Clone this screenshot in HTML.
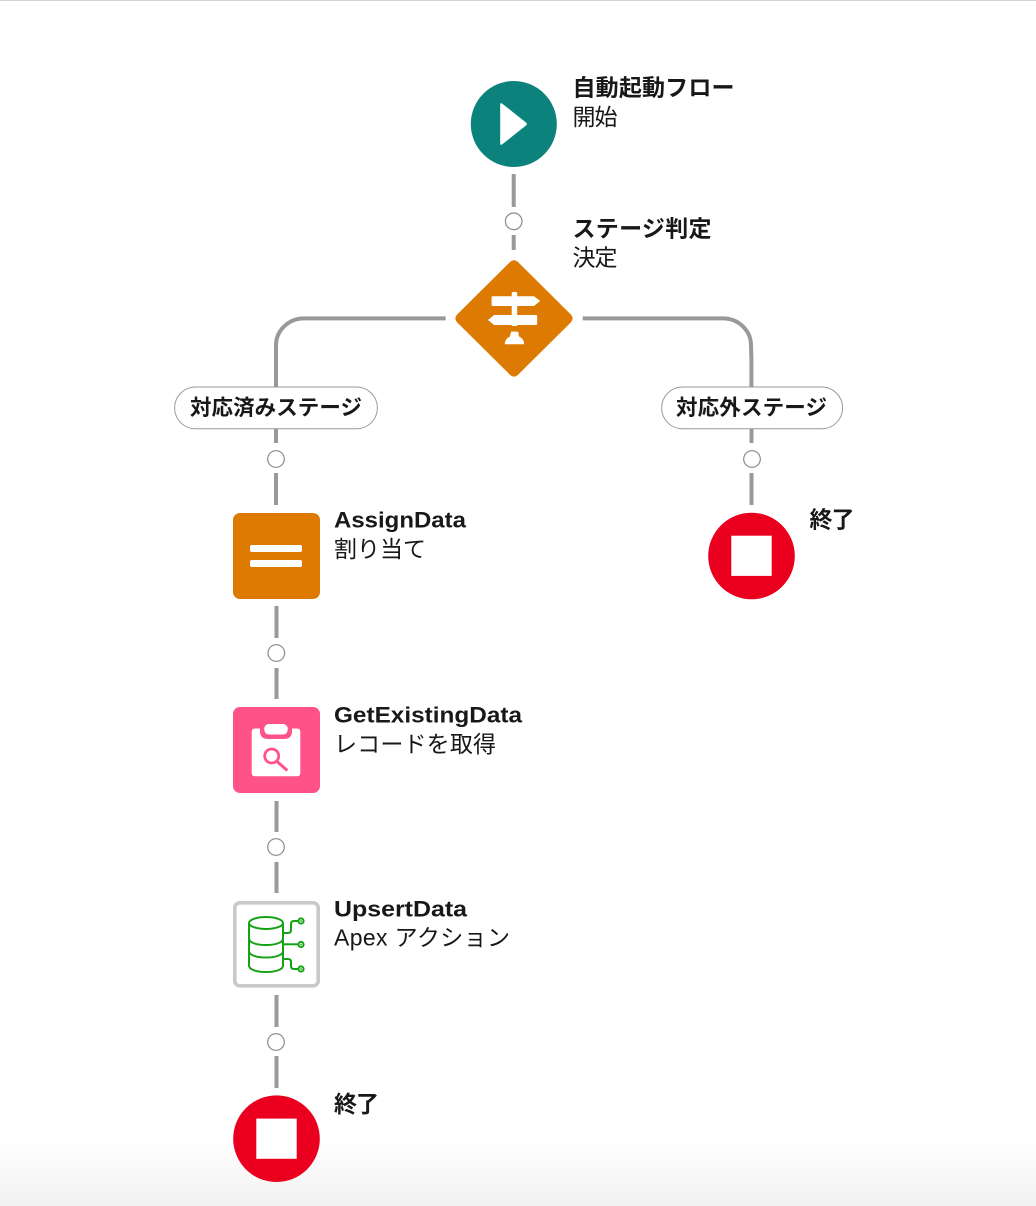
<!DOCTYPE html>
<html lang="ja">
<head>
<meta charset="utf-8">
<title>Flow</title>
<style>
html,body{margin:0;padding:0;background:#fff;width:1036px;height:1206px;overflow:hidden}
svg{display:block}
text{font-family:"Liberation Sans","Noto Sans CJK JP",sans-serif;fill:#181818}
.b{font-size:23px;font-weight:700}
.r{font-size:23px;font-weight:400}
.p{font-size:21.5px;font-weight:700}
.lb{font-size:22px;font-weight:700}
.l{stroke:#999;stroke-width:4;fill:none}
.c{fill:#fff;stroke:#8a8a8a;stroke-width:1.2}
</style>
</head>
<body>
<svg width="1036" height="1206" viewBox="0 0 1036 1206" xmlns="http://www.w3.org/2000/svg">
<defs>
<linearGradient id="g" x1="0" y1="0" x2="0" y2="1">
<stop offset="0" stop-color="#fff"/>
<stop offset="1" stop-color="#f2f2f2"/>
</linearGradient>
</defs>
<rect width="1036" height="1206" fill="#fff"/>
<rect x="0" y="1135" width="1036" height="71" fill="url(#g)"/>
<rect x="0" y="0" width="1036" height="1" fill="#d4d4d4"/>

<!-- connectors -->
<path class="l" d="M513.7 174V207M513.7 235V250"/>
<path class="l" d="M445.7 318.4H304A28 27 0 0 0 276 345.4V387"/>
<path class="l" d="M582.7 318.4H723A28 27 0 0 1 751 345.4L751.4 360V387"/>
<path class="l" d="M276 429V443M276 473V505M276.5 606V638M276.5 668V699M276.5 801V832M276.5 862V893M276.5 995V1027M276.5 1056V1088"/>
<path class="l" d="M751.5 429V443M751.5 473V505"/>

<circle class="c" cx="513.7" cy="221.3" r="8.3"/>
<circle class="c" cx="276" cy="459" r="8.3"/>
<circle class="c" cx="752" cy="459" r="8.3"/>
<circle class="c" cx="276.3" cy="653" r="8.3"/>
<circle class="c" cx="276" cy="847" r="8.3"/>
<circle class="c" cx="276" cy="1042" r="8.3"/>

<!-- start -->
<circle cx="513.8" cy="124" r="43" fill="#0b827c"/>
<path d="M502 103.5L526.3 122.8Q527.5 124 526.3 125.2L502 144.5Q500.2 145.5 500.2 143.5V104.5Q500.2 102.5 502 103.5Z" fill="#fff"/>

<!-- decision -->
<path d="M509.8 262.2Q514 258.2 518.2 262.2L570.6 314.2Q574.6 318.4 570.6 322.6L518.2 374.6Q514 378.6 509.8 374.6L457.4 322.6Q453.4 318.4 457.4 314.2Z" fill="#dd7a01"/>
<path d="M511.7 296.2V293.4Q511.7 292 513 292H516Q517.2 292 517.2 293.4V296.2H534L540.2 301L534 306H517.2V315H536Q537.2 315 537.2 316.2V323.8Q537.2 325 536 325H517.2V326H511.7V325H494L488 320L494 315H511.7V306H492.8Q491.6 306 491.6 304.8V297.4Q491.6 296.2 492.8 296.2Z" fill="#fff"/>
<path d="M511 331.6H518.2L519 336.5C522.5 338 524.2 341 524.2 344.2H504.8C504.8 341 506.5 338 510 336.5Z" fill="#fff"/>

<!-- pills -->
<rect x="174.6" y="387" width="202.8" height="41.8" rx="20.9" fill="#fff" stroke="#999" stroke-width="1"/>
<rect x="661.6" y="387" width="181" height="41.8" rx="20.9" fill="#fff" stroke="#999" stroke-width="1"/>

<!-- assignment -->
<rect x="233" y="513" width="87" height="86" rx="7" fill="#dd7a01"/>
<rect x="250" y="545" width="52" height="7" rx="2" fill="#fff"/>
<rect x="250" y="560" width="52" height="7" rx="2" fill="#fff"/>

<!-- get records -->
<rect x="233" y="707" width="87" height="86" rx="7" fill="#fe5289"/>
<path d="M255 728.5H260V731Q260 739 268 739H284Q292 739 292 731V728.5H297Q300.3 728.5 300.3 732V773Q300.3 776.2 297 776.2H255Q251.7 776.2 251.7 773V732Q251.7 728.5 255 728.5Z" fill="#fff"/>
<rect x="264.3" y="724" width="23.4" height="10.5" rx="4.5" fill="#fff"/>
<circle cx="271.7" cy="756" r="7" fill="none" stroke="#fe5289" stroke-width="2.8"/>
<path d="M277 761.5L287.3 770.5" stroke="#fe5289" stroke-width="3" fill="none"/>

<!-- apex action -->
<rect x="234.8" y="902.8" width="83.4" height="83" rx="5" fill="#fff" stroke="#c9c9c9" stroke-width="3.6"/>
<g fill="none" stroke="#14a314" stroke-width="2">
<ellipse cx="266" cy="923" rx="17" ry="6"/>
<path d="M249 923V965.5C249 969.5 256 972 266 972S283 969.5 283 965.5V923"/>
<path d="M249 938.5C249 942.5 256 945 266 945S283 942.5 283 938.5"/>
<path d="M249 951C249 955 256 957.5 266 957.5S283 955 283 951"/>
<path d="M284 933H288Q291 933 291 930V924Q291 921 294 921H298"/>
<path d="M283 944.3H298"/>
<path d="M284 959H288Q291 959 291 962V966Q291 969 294 969H298"/>
<circle cx="301" cy="921" r="2.6"/>
<circle cx="301" cy="944.5" r="2.6"/>
<circle cx="301" cy="969" r="2.6"/>
</g>
<g fill="#14a314">
<circle cx="301" cy="921" r="0.9"/>
<circle cx="301" cy="944.5" r="0.9"/>
<circle cx="301" cy="969" r="0.9"/>
</g>

<!-- ends -->
<circle cx="751.5" cy="556" r="43.3" fill="#ea001e"/>
<rect x="731.3" y="535.7" width="40.4" height="40.2" fill="#fff"/>
<circle cx="276.5" cy="1138.7" r="43.3" fill="#ea001e"/>
<rect x="256.3" y="1118.6" width="40.4" height="40.2" fill="#fff"/>

<!-- labels -->
<text class="b" x="572.5" y="95.5" textLength="162">自動起動フロー</text>
<text class="r" x="572.5" y="125" textLength="45">開始</text>
<text class="b" x="572.5" y="236.5" textLength="139">ステージ判定</text>
<text class="r" x="572.5" y="265.5" textLength="45">決定</text>
<text class="p" x="190" y="415" textLength="172">対応済みステージ</text>
<text class="p" x="676" y="415" textLength="151">対応外ステージ</text>
<text class="lb" x="334" y="527.7" lengthAdjust="spacingAndGlyphs" textLength="132">AssignData</text>
<text class="r" x="334" y="557" textLength="92">割り当て</text>
<text class="b" x="809.5" y="527.7" textLength="45">終了</text>
<text class="lb" x="334" y="722.7" lengthAdjust="spacingAndGlyphs" textLength="188">GetExistingData</text>
<text class="r" x="334" y="752" textLength="162">レコードを取得</text>
<text class="lb" x="334" y="916.7" lengthAdjust="spacingAndGlyphs" textLength="133">UpsertData</text>
<text class="r" x="334" y="945.6" textLength="176">Apex アクション</text>
<text class="b" x="334" y="1112" textLength="45">終了</text>
</svg>
</body>
</html>
